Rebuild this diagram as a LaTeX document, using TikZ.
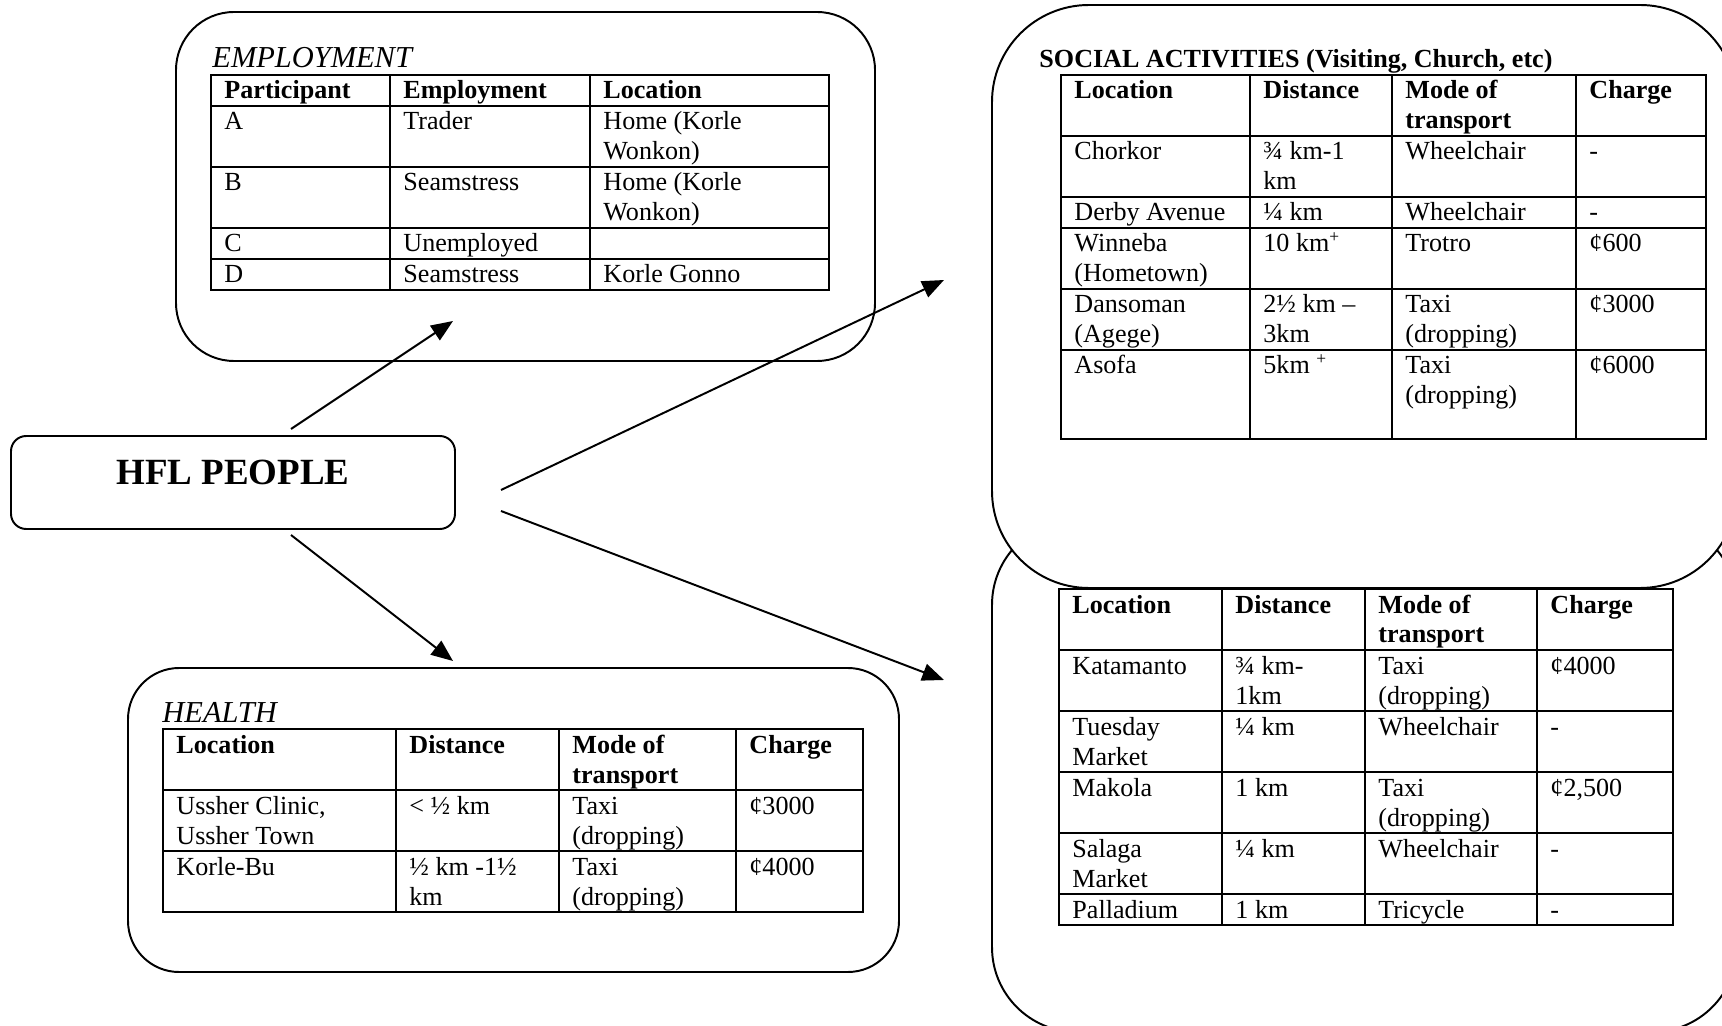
\documentclass[tikz,border=0pt]{standalone}
\usepackage{fontspec}
\setmainfont{Liberation Serif}
\usetikzlibrary{arrows.meta,fit}

% two stacked lines inside one table cell, baseline on the first line
\newcommand\twol[2]{\vtop{\hbox{\strut#1}\hbox{\strut#2}}}

\begin{document}
\begin{tikzpicture}[x=0.46pt,y=-0.46pt,
  box/.style={draw, line width=0.9pt, inner sep=0pt, rectangle},
  tgrid/.style={line width=1.2pt},
  tcell/.style={anchor=base west, inner sep=0pt, shift={(13,24)},
                font=\fontsize{12}{13.8}\selectfont},
  thead/.style={tcell, font=\fontsize{12}{13.8}\selectfont\bfseries},
  ttl/.style={anchor=base west, inner sep=0pt},
  link/.style={line width=0.9pt, -{Triangle[length=10pt,width=8pt]}}]

\useasboundingbox (0,0) rectangle (1722,1026);
\clip (0,0) rectangle (1722,1026);

% ---------- frames ----------
\node[box, rounded corners=26.7pt, fit={(176,12) (875,361)}] (emp) {};
\node[box, rounded corners=23.5pt, fit={(128,668) (899,972)}] (health) {};
\node[box, rounded corners=39pt, fit={(992,520) (1737,1032)}] (shop) {};
\node[box, rounded corners=44.6pt, fill=white, fit={(992,5) (1737,588)}] (social) {};
\node[box, rounded corners=7pt, fit={(11,436) (455,529)}] (hfl) {};
\node[anchor=base, inner sep=0pt, font=\fontsize{17}{20}\selectfont\bfseries]
  (hfltxt) at (233,485) {HFL PEOPLE};

% ---------- employment ----------
\node[ttl, font=\fontsize{14}{16}\selectfont\itshape] (empttl) at (212,68) {EMPLOYMENT};
\draw[tgrid] (211,75) rectangle (829,290);
\foreach \x in {390,590} \draw[tgrid] (\x,75) -- (\x,290);
\foreach \y in {106,167,228,259} \draw[tgrid] (211,\y) -- (829,\y);
\node[thead] (e01) at (211,75) {Participant};
\node[thead] (e02) at (390,75) {Employment};
\node[thead] (e03) at (590,75) {Location};
\node[tcell] (e11) at (211,106) {A};
\node[tcell] (e12) at (390,106) {Trader};
\node[tcell] (e13) at (590,106) {\twol{Home (Korle}{Wonkon)}};
\node[tcell] (e21) at (211,167) {B};
\node[tcell] (e22) at (390,167) {Seamstress};
\node[tcell] (e23) at (590,167) {\twol{Home (Korle}{Wonkon)}};
\node[tcell] (e31) at (211,228) {C};
\node[tcell] (e32) at (390,228) {Unemployed};
\node[tcell] (e41) at (211,259) {D};
\node[tcell] (e42) at (390,259) {Seamstress};
\node[tcell] (e43) at (590,259) {Korle Gonno};

% ---------- health ----------
\node[ttl, font=\fontsize{14}{16}\selectfont\itshape] (hlttl) at (162,722) {HEALTH};
\draw[tgrid] (163,729) rectangle (863,912);
\foreach \x in {396,559,736} \draw[tgrid] (\x,729) -- (\x,912);
\foreach \y in {790,851} \draw[tgrid] (163,\y) -- (863,\y);
\node[thead] (h01) at (163,729) {Location};
\node[thead] (h02) at (396,729) {Distance};
\node[thead] (h03) at (559,729) {\twol{Mode of}{transport}};
\node[thead] (h04) at (736,729) {Charge};
\node[tcell] (h11) at (163,790) {\twol{Ussher Clinic,}{Ussher Town}};
\node[tcell] (h12) at (396,790) {< ½ km};
\node[tcell] (h13) at (559,790) {\twol{Taxi}{(dropping)}};
\node[tcell] (h14) at (736,790) {¢3000};
\node[tcell] (h21) at (163,851) {Korle-Bu};
\node[tcell] (h22) at (396,851) {\twol{½ km -1½}{km}};
\node[tcell] (h23) at (559,851) {\twol{Taxi}{(dropping)}};
\node[tcell] (h24) at (736,851) {¢4000};

% ---------- social activities ----------
\node[ttl, font=\fontsize{12}{13.8}\selectfont\bfseries] (sottl) at (1039,68)
  {SOCIAL ACTIVITIES (Visiting, Church, etc)};
\draw[tgrid] (1061,75) rectangle (1706,439);
\foreach \x in {1250,1392,1576} \draw[tgrid] (\x,75) -- (\x,439);
\foreach \y in {136,197,228,289,350} \draw[tgrid] (1061,\y) -- (1706,\y);
\node[thead] (s01) at (1061,75) {Location};
\node[thead] (s02) at (1250,75) {Distance};
\node[thead] (s03) at (1392,75) {\twol{Mode of}{transport}};
\node[thead] (s04) at (1576,75) {Charge};
\node[tcell] (s11) at (1061,136) {Chorkor};
\node[tcell] (s12) at (1250,136) {\twol{¾ km-1}{km}};
\node[tcell] (s13) at (1392,136) {Wheelchair};
\node[tcell] (s14) at (1576,136) {-};
\node[tcell] (s21) at (1061,197) {Derby Avenue};
\node[tcell] (s22) at (1250,197) {¼ km};
\node[tcell] (s23) at (1392,197) {Wheelchair};
\node[tcell] (s24) at (1576,197) {-};
\node[tcell] (s31) at (1061,228) {\twol{Winneba}{(Hometown)}};
\node[tcell] (s32) at (1250,228) {10 km\textsuperscript{+}};
\node[tcell] (s33) at (1392,228) {Trotro};
\node[tcell] (s34) at (1576,228) {¢600};
\node[tcell] (s41) at (1061,289) {\twol{Dansoman}{(Agege)}};
\node[tcell] (s42) at (1250,289) {\twol{2½ km –}{3km}};
\node[tcell] (s43) at (1392,289) {\twol{Taxi}{(dropping)}};
\node[tcell] (s44) at (1576,289) {¢3000};
\node[tcell] (s51) at (1061,350) {Asofa};
\node[tcell] (s52) at (1250,350) {5km \textsuperscript{+}};
\node[tcell] (s53) at (1392,350) {\twol{Taxi}{(dropping)}};
\node[tcell] (s54) at (1576,350) {¢6000};

% ---------- shopping destinations ----------
\draw[tgrid] (1059,589) rectangle (1673,925);
\foreach \x in {1222,1365,1537} \draw[tgrid] (\x,589) -- (\x,925);
\foreach \y in {650,711,772,833,894} \draw[tgrid] (1059,\y) -- (1673,\y);
\node[thead] (m01) at (1059,589) {Location};
\node[thead] (m02) at (1222,589) {Distance};
\node[thead] (m03) at (1365,589) {\twol{Mode of}{transport}};
\node[thead] (m04) at (1537,589) {Charge};
\node[tcell] (m11) at (1059,650) {Katamanto};
\node[tcell] (m12) at (1222,650) {\twol{¾ km-}{1km}};
\node[tcell] (m13) at (1365,650) {\twol{Taxi}{(dropping)}};
\node[tcell] (m14) at (1537,650) {¢4000};
\node[tcell] (m21) at (1059,711) {\twol{Tuesday}{Market}};
\node[tcell] (m22) at (1222,711) {¼ km};
\node[tcell] (m23) at (1365,711) {Wheelchair};
\node[tcell] (m24) at (1537,711) {-};
\node[tcell] (m31) at (1059,772) {Makola};
\node[tcell] (m32) at (1222,772) {1 km};
\node[tcell] (m33) at (1365,772) {\twol{Taxi}{(dropping)}};
\node[tcell] (m34) at (1537,772) {¢2,500};
\node[tcell] (m41) at (1059,833) {\twol{Salaga}{Market}};
\node[tcell] (m42) at (1222,833) {¼ km};
\node[tcell] (m43) at (1365,833) {Wheelchair};
\node[tcell] (m44) at (1537,833) {-};
\node[tcell] (m51) at (1059,894) {Palladium};
\node[tcell] (m52) at (1222,894) {1 km};
\node[tcell] (m53) at (1365,894) {Tricycle};
\node[tcell] (m54) at (1537,894) {-};

% ---------- connectors ----------
\coordinate (fromEmp) at (291,429);  \coordinate (toEmp) at (453,321);
\coordinate (fromSoc) at (501,490);  \coordinate (toSoc) at (944,280);
\coordinate (fromShp) at (501,511);  \coordinate (toShp) at (944,680);
\coordinate (fromHlt) at (291,535);  \coordinate (toHlt) at (453,661);
\draw[link] (fromEmp) -- (toEmp);
\draw[link] (fromSoc) -- (toSoc);
\draw[link] (fromShp) -- (toShp);
\draw[link] (fromHlt) -- (toHlt);
\end{tikzpicture}
\end{document}
